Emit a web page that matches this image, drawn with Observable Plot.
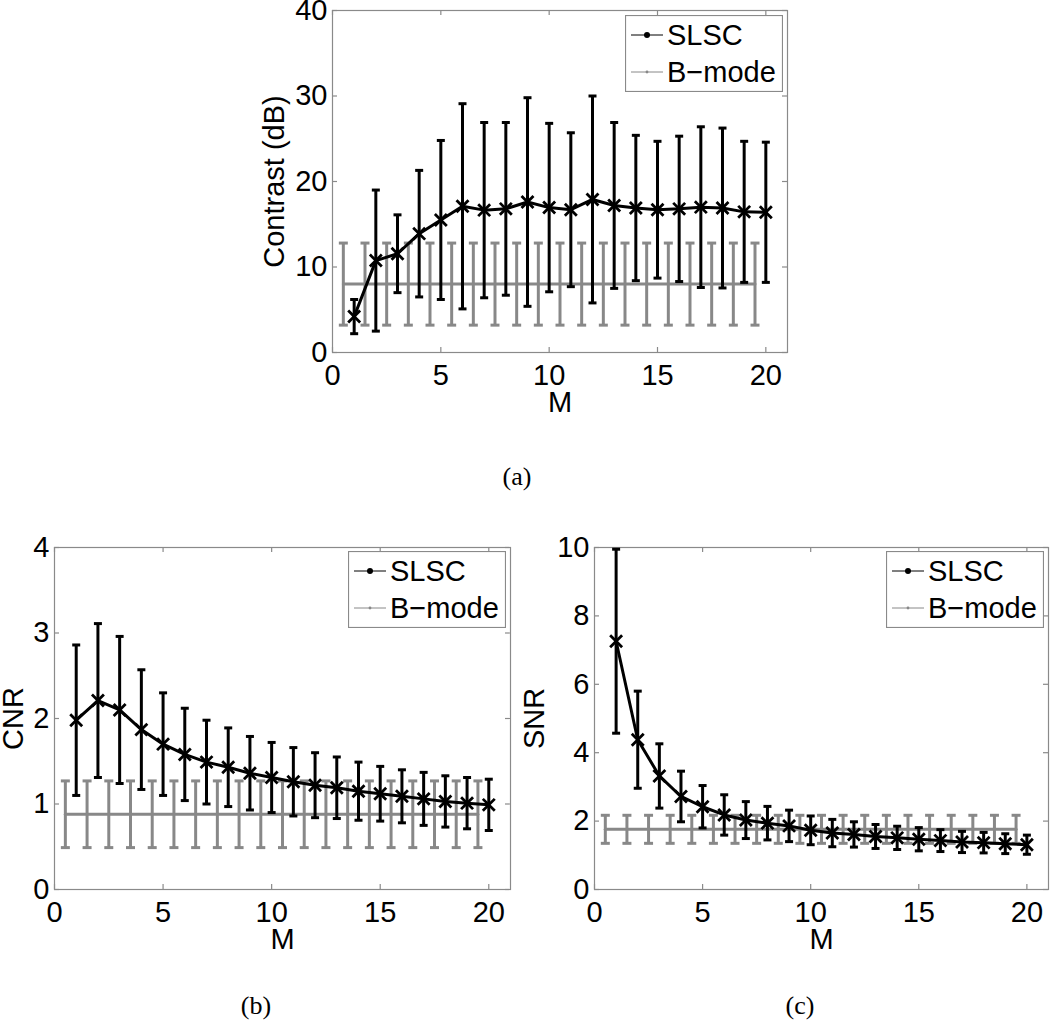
<!DOCTYPE html>
<html>
<head>
<meta charset="utf-8">
<script src="https://cdn.jsdelivr.net/npm/d3@7"></script>
<script src="https://cdn.jsdelivr.net/npm/@observablehq/plot@0.6"></script>
<style>
  html, body { margin: 0; padding: 0; background: #fff; }
  #root { position: relative; width: 1050px; height: 1029px; overflow: hidden; background: #fff;
          font-family: "Liberation Sans", Arial, Helvetica, sans-serif; }
  .panel { position: absolute; }
  .caption { position: absolute; font-family: "Liberation Serif", "DejaVu Serif", serif; font-size: 26px;
             transform: translate(-50%, -50%); white-space: nowrap; color: #000; }
</style>
</head>
<body>
<div id="root"></div>
<script>
// ---------------- data ----------------
const M = [1, 2, 3, 4, 5, 6, 7, 8, 9, 10, 11, 12, 13, 14, 15, 16, 17, 18, 19, 20];
const bmodeM = [0.5, 1.5, 2.5, 3.5, 4.5, 5.5, 6.5, 7.5, 8.5, 9.5, 10.5, 11.5, 12.5, 13.5, 14.5, 15.5, 16.5, 17.5, 18.5, 19.5];

const xTicks = [0, 5, 10, 15, 20];

// (a) Contrast (dB)
const contrastTicks = [0, 10, 20, 30, 40];
const slscContrast    = [4.2, 10.75, 11.55, 13.9, 15.5, 17.1, 16.65, 16.8, 17.6, 16.95, 16.7, 17.9, 17.2, 16.9, 16.7, 16.8, 17.0, 16.9, 16.45, 16.4];
const slscContrastErr = [2.0, 8.25, 4.55, 7.4, 9.3, 12.0, 10.25, 10.1, 12.2, 9.85, 9.0, 12.1, 9.7, 8.5, 8.0, 8.5, 9.4, 9.35, 8.25, 8.2];
const bmodeContrast    = [8.0, 8.0, 8.0, 8.0, 8.0, 8.0, 8.0, 8.0, 8.0, 8.0, 8.0, 8.0, 8.0, 8.0, 8.0, 8.0, 8.0, 8.0, 8.0, 8.0];
const bmodeContrastErr = [4.8, 4.8, 4.8, 4.8, 4.8, 4.8, 4.8, 4.8, 4.8, 4.8, 4.8, 4.8, 4.8, 4.8, 4.8, 4.8, 4.8, 4.8, 4.8, 4.8];

// (b) CNR
const cnrTicks = [0, 1, 2, 3, 4];
const slscCNR    = [1.98, 2.21, 2.10, 1.87, 1.70, 1.58, 1.49, 1.43, 1.36, 1.31, 1.26, 1.22, 1.19, 1.15, 1.12, 1.09, 1.06, 1.03, 1.01, 0.99];
const slscCNRErr = [0.88, 0.90, 0.86, 0.70, 0.60, 0.54, 0.49, 0.46, 0.43, 0.41, 0.40, 0.38, 0.36, 0.34, 0.32, 0.31, 0.31, 0.30, 0.30, 0.30];
const bmodeCNR    = [0.88, 0.88, 0.88, 0.88, 0.88, 0.88, 0.88, 0.88, 0.88, 0.88, 0.88, 0.88, 0.88, 0.88, 0.88, 0.88, 0.88, 0.88, 0.88, 0.88];
const bmodeCNRErr = [0.39, 0.39, 0.39, 0.39, 0.39, 0.39, 0.39, 0.39, 0.39, 0.39, 0.39, 0.39, 0.39, 0.39, 0.39, 0.39, 0.39, 0.39, 0.39, 0.39];

// (c) SNR
const snrTicks = [0, 2, 4, 6, 8, 10];
const slscSNR    = [7.26, 4.38, 3.32, 2.72, 2.42, 2.18, 2.03, 1.94, 1.86, 1.73, 1.65, 1.61, 1.55, 1.51, 1.47, 1.43, 1.39, 1.37, 1.34, 1.31];
const slscSNRErr = [2.69, 1.42, 0.94, 0.74, 0.62, 0.59, 0.54, 0.49, 0.46, 0.42, 0.40, 0.37, 0.35, 0.34, 0.34, 0.32, 0.31, 0.30, 0.29, 0.28];
const bmodeSNR    = [1.76, 1.76, 1.76, 1.76, 1.76, 1.76, 1.76, 1.76, 1.76, 1.76, 1.76, 1.76, 1.76, 1.76, 1.76, 1.76, 1.76, 1.76, 1.76, 1.76];
const bmodeSNRErr = [0.41, 0.41, 0.41, 0.41, 0.41, 0.41, 0.41, 0.41, 0.41, 0.41, 0.41, 0.41, 0.41, 0.41, 0.41, 0.41, 0.41, 0.41, 0.41, 0.41];

const seriesNames = ["SLSC", "B\u2212mode"];
const captions = ["(a)", "(b)", "(c)"];

// ---------------- style ----------------
const FONT = "'Liberation Sans', Arial, Helvetica, sans-serif";
const GREY = "#888888";
const FRAME = "#8a8a8a";
const FS = 29;

// horizontal cap symbol for error bars
const capSymbol = {
  draw(ctx, size) {
    const r = Math.sqrt(size / Math.PI);
    ctx.moveTo(-r, 0);
    ctx.lineTo(r, 0);
  }
};

function rows(xs, means, errs) {
  return xs.map((m, i) => ({ m, v: means[i], lo: means[i] - errs[i], hi: means[i] + errs[i] }));
}

function makePanel(o) {
  const frameH = 342;
  const frameW = o.width - o.marginLeft - o.marginRight;
  const slsc = rows(M, o.slscMean, o.slscErr);
  const bm = rows(bmodeM, o.bMean, o.bErr);
  const fmt = d => String(d);
  const chart = Plot.plot({
    width: o.width,
    height: 10 + frameH + 70,
    marginTop: 10,
    marginBottom: 70,
    marginLeft: o.marginLeft,
    marginRight: o.marginRight,
    style: { fontFamily: FONT, fontSize: FS + "px", color: "#000", background: "transparent", overflow: "visible" },
    x: { domain: [0, 21] },
    y: { domain: o.yDomain },
    marks: [
      Plot.frame({ stroke: FRAME, strokeWidth: 1.2 }),
      Plot.tickX(xTicks, { x: d => d, insetTop: frameH - 5, stroke: FRAME, strokeWidth: 1.2 }),
      Plot.tickX(xTicks, { x: d => d, insetBottom: frameH - 5, stroke: FRAME, strokeWidth: 1.2 }),
      Plot.tickY(o.yTicks, { y: d => d, insetRight: frameW - 5, stroke: FRAME, strokeWidth: 1.2 }),
      Plot.tickY(o.yTicks, { y: d => d, insetLeft: frameW - 5, stroke: FRAME, strokeWidth: 1.2 }),
      Plot.axisX(xTicks, { tickSize: 0, tickPadding: 12, fontSize: FS, label: null, fill: "#000", tickFormat: fmt }),
      Plot.axisY(o.yTicks, { tickSize: 0, tickPadding: 5, fontSize: FS, label: null, fill: "#000", tickFormat: fmt }),
      Plot.text(["M"], { text: d => d, frameAnchor: "bottom", dy: 50, lineAnchor: "middle", textAnchor: "middle", fontSize: FS, fill: "#000" }),
      Plot.text([o.yLabel], { text: d => d, frameAnchor: "left", dx: o.yLabelDx, rotate: -90, lineAnchor: "middle", textAnchor: "middle", fontSize: FS, fill: "#000" }),
      // B-mode
      Plot.ruleX(bm, { x: "m", y1: "lo", y2: "hi", stroke: GREY, strokeWidth: 3 }),
      Plot.dot(bm, { x: "m", y: "lo", symbol: capSymbol, r: 4.5, stroke: GREY, strokeWidth: 3, fill: "none" }),
      Plot.dot(bm, { x: "m", y: "hi", symbol: capSymbol, r: 4.5, stroke: GREY, strokeWidth: 3, fill: "none" }),
      Plot.line(bm, { x: "m", y: "v", stroke: GREY, strokeWidth: 3 }),
      // SLSC
      Plot.ruleX(slsc, { x: "m", y1: "lo", y2: "hi", stroke: "#000", strokeWidth: 3 }),
      Plot.dot(slsc, { x: "m", y: "lo", symbol: capSymbol, r: 4, stroke: "#000", strokeWidth: 3, fill: "none" }),
      Plot.dot(slsc, { x: "m", y: "hi", symbol: capSymbol, r: 4, stroke: "#000", strokeWidth: 3, fill: "none" }),
      Plot.line(slsc, { x: "m", y: "v", stroke: "#000", strokeWidth: 3 }),
      Plot.dot(slsc, { x: "m", y: "v", symbol: "times", r: 5.5, stroke: "#000", strokeWidth: 2.8 })
    ]
  });
  chart.classList.add("panel");
  chart.style.left = o.left + "px";
  chart.style.top = o.top + "px";
  chart.style.position = "absolute";
  return chart;
}

function makeLegend(left, top) {
  const w = 158, h = 77;
  const svg = d3.create("svg")
    .attr("width", w).attr("height", h)
    .style("position", "absolute").style("left", left + "px").style("top", top + "px")
    .style("font-family", FONT).style("font-size", FS + "px");
  svg.append("rect").attr("x", 0.5).attr("y", 0.5).attr("width", w - 1).attr("height", h - 1)
    .attr("fill", "#fff").attr("stroke", FRAME).attr("stroke-width", 1.2);
  const items = [
    { name: seriesNames[0], color: "#000", r: 3, y: 20 },
    { name: seriesNames[1], color: GREY, r: 1.4, y: 57 }
  ];
  for (const it of items) {
    svg.append("line").attr("x1", 6).attr("x2", 38).attr("y1", it.y).attr("y2", it.y)
      .attr("stroke", it.color).attr("stroke-width", 1);
    svg.append("circle").attr("cx", 22).attr("cy", it.y).attr("r", it.r).attr("fill", it.color);
    svg.append("text").attr("x", 42).attr("y", it.y).attr("dy", "0.36em").attr("fill", "#000").text(it.name);
  }
  return svg.node();
}

const root = document.getElementById("root");

root.appendChild(makePanel({
  left: 200, top: 0, width: 600, marginLeft: 132, marginRight: 13,
  yDomain: [0, 40], yTicks: contrastTicks, yLabel: "Contrast (dB)", yLabelDx: -58,
  slscMean: slscContrast, slscErr: slscContrastErr, bMean: bmodeContrast, bErr: bmodeContrastErr
}));
root.appendChild(makePanel({
  left: 0, top: 537, width: 520, marginLeft: 54, marginRight: 10,
  yDomain: [0, 4], yTicks: cnrTicks, yLabel: "CNR", yLabelDx: -41,
  slscMean: slscCNR, slscErr: slscCNRErr, bMean: bmodeCNR, bErr: bmodeCNRErr
}));
root.appendChild(makePanel({
  left: 530, top: 537, width: 520, marginLeft: 64, marginRight: 2,
  yDomain: [0, 10], yTicks: snrTicks, yLabel: "SNR", yLabelDx: -60,
  slscMean: slscSNR, slscErr: slscSNRErr, bMean: bmodeSNR, bErr: bmodeSNRErr
}));

root.appendChild(makeLegend(625, 15));
root.appendChild(makeLegend(348, 551));
root.appendChild(makeLegend(886, 551));

const capPos = [[517, 477], [256, 1006], [800, 1006]];
captions.forEach((c, i) => {
  const d = document.createElement("div");
  d.className = "caption";
  d.style.left = capPos[i][0] + "px";
  d.style.top = capPos[i][1] + "px";
  d.textContent = c;
  root.appendChild(d);
});
</script>
</body>
</html>
